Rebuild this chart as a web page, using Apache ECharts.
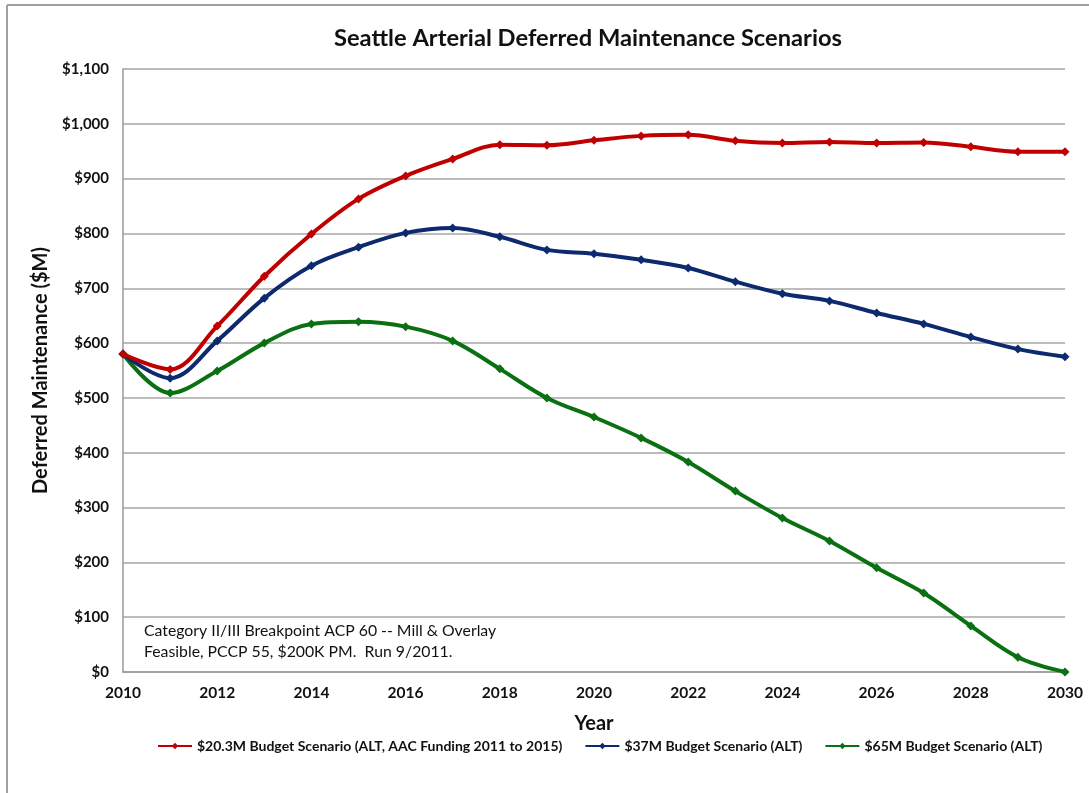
<!DOCTYPE html>
<html>
<head>
<meta charset="utf-8">
<script src="https://cdn.jsdelivr.net/npm/echarts@6/dist/echarts.min.js"></script>
<style>
html,body{margin:0;padding:0;background:#fff;}
#chart{width:1089px;height:793px;}
</style>
</head>
<body>
<div id="chart"></div>
<script>
var years = [2010,2011,2012,2013,2014,2015,2016,2017,2018,2019,2020,2021,2022,2023,2024,2025,2026,2027,2028,2029,2030];
var red   = [580,552,631,722,799,863,905,936,962,961,970,978,980,969,965,967,965,966,958,949,949];
var blue  = [580,536,604,682,741,775,801,810,794,770,763,752,737,712,690,677,655,635,611,589,575];
var green = [580,509,549,600,635,639,630,604,553,500,465,427,383,330,281,239,190,144,84,27,0];
var seriesNames = ['$20.3M Budget Scenario (ALT, AAC Funding 2011 to 2015)','$37M Budget Scenario (ALT)','$65M Budget Scenario (ALT)'];
var colors = ['#c00000','#0d2a6e','#0a7012'];
var noteLines = ['Category II/III Breakpoint ACP 60 -- Mill & Overlay','Feasible, PCCP 55, $200K PM.  Run 9/2011.'];

function pairs(v){ return years.map(function(y,i){ return [y, v[i]]; }); }
var font = 'Lato, "Open Sans", sans-serif';
var chart = echarts.init(document.getElementById('chart'));
var dataSets = [red, blue, green];
chart.setOption({
  animation:false,
  textStyle:{fontFamily:font},
  title:{text:'Seattle Arterial Deferred Maintenance Scenarios', left:329, top:21,
    textStyle:{fontSize:23.7, fontWeight:'bold', color:'#111', fontFamily:font}},
  grid:{left:123, right:24, top:69, bottom:121},
  legend:{bottom:35, left:152, itemWidth:34, itemHeight:8, itemGap:22,
    textStyle:{fontSize:14, fontWeight:'bold', color:'#111', fontFamily:font},
    data:seriesNames},
  xAxis:{type:'value', min:2010, max:2030, interval:2,
    name:'Year', nameLocation:'middle', nameGap:42,
    nameTextStyle:{fontSize:20, fontWeight:'bold', color:'#111'},
    axisLine:{lineStyle:{color:'#9a9a9a', width:1.5}},
    axisTick:{show:false},
    axisLabel:{fontSize:15.5, fontWeight:'bold', color:'#111', margin:13, formatter:function(v){return String(v);}},
    splitLine:{show:false}},
  yAxis:{type:'value', min:0, max:1100, interval:100,
    name:'Deferred Maintenance ($M)', nameLocation:'middle', nameGap:72,
    nameTextStyle:{fontSize:20, fontWeight:'bold', color:'#111'},
    axisLine:{show:true, lineStyle:{color:'#9a9a9a', width:1.5}},
    axisTick:{show:false},
    axisLabel:{fontSize:15, fontWeight:'bold', color:'#111', margin:14,
      formatter:function(v){ return '$' + v.toLocaleString('en-US'); }},
    splitLine:{lineStyle:{color:'#a6a6a6', width:1.5}}},
  series: seriesNames.map(function(n,i){
    return {name:n, type:'line', smooth:0.35, data:pairs(dataSets[i]),
      symbol:'diamond', symbolSize:9, showSymbol:true,
      lineStyle:{width:4, color:colors[i]}, itemStyle:{color:colors[i]}, z:10-i};
  }),
  graphic:[
    {type:'line', shape:{x1:7,y1:5,x2:1089,y2:5}, style:{stroke:'#a0a0a0', lineWidth:2}},
    {type:'line', shape:{x1:7,y1:5,x2:7,y2:793}, style:{stroke:'#a0a0a0', lineWidth:2}},
    {type:'text', left:144, top:620, style:{text:noteLines.join('\n'), fontSize:15.8, lineHeight:21, fill:'#111', fontFamily:font}}
  ]
});
</script>
</body>
</html>
